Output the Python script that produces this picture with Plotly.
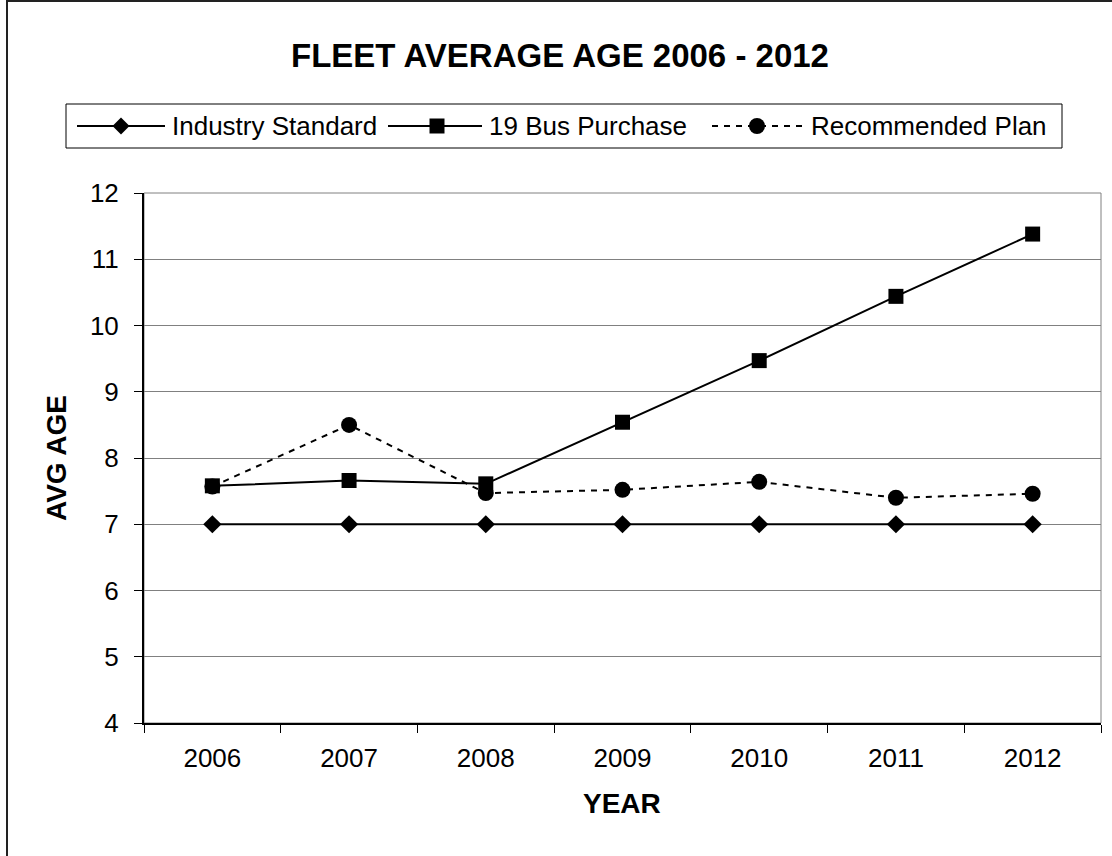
import plotly.graph_objects as go

# Fleet average age by year for three fleet replacement scenarios
years = ["2006", "2007", "2008", "2009", "2010", "2011", "2012"]
industry_standard = [7, 7, 7, 7, 7, 7, 7]
bus_purchase_19 = [7.58, 7.66, 7.61, 8.54, 9.47, 10.44, 11.38]
recommended_plan = [7.57, 8.5, 7.47, 7.52, 7.64, 7.40, 7.46]
y_ticks = [4, 5, 6, 7, 8, 9, 10, 11, 12]

series_names = ["Industry Standard", "19 Bus Purchase", "Recommended Plan"]

FONT = "Arial, Liberation Sans, sans-serif"
W, H = 1112, 856
L, R, T, B = 144, 11, 193, 133
PW, PH = W - L - R, H - T - B


def px_x(p):
    """Pixel column -> paper x."""
    return (p - L) / PW


def px_y(p):
    """Pixel row (from top) -> paper y."""
    return (H - B - p) / PH


DASH = "6px,6px"
fig = go.Figure()

fig.add_trace(go.Scatter(
    x=years, y=industry_standard, name=series_names[0], mode="lines+markers",
    line=dict(color="black", width=2),
    marker=dict(symbol="diamond", size=14, color="black"),
))
fig.add_trace(go.Scatter(
    x=years, y=bus_purchase_19, name=series_names[1], mode="lines+markers",
    line=dict(color="black", width=2),
    marker=dict(symbol="square", size=15, color="black"),
))
fig.add_trace(go.Scatter(
    x=years, y=recommended_plan, name=series_names[2], mode="lines+markers",
    line=dict(color="black", width=2, dash=DASH),
    marker=dict(symbol="circle", size=16, color="black"),
))

shapes = [
    # grey frame around plotting area (top and right edges)
    dict(type="rect", xref="paper", yref="paper", x0=0, x1=1, y0=0, y1=1,
         line=dict(color="#808080", width=1), layer="below"),
    # outer chart border
    dict(type="line", xref="paper", yref="paper", x0=px_x(7), x1=px_x(7),
         y0=px_y(0), y1=px_y(H + 5), line=dict(color="#222", width=2)),
    dict(type="line", xref="paper", yref="paper", x0=px_x(7), x1=px_x(W + 5),
         y0=px_y(1), y1=px_y(1), line=dict(color="#222", width=2)),
    # legend box
    dict(type="rect", xref="paper", yref="paper",
         x0=px_x(66), x1=px_x(1062), y0=px_y(104), y1=px_y(148),
         line=dict(color="black", width=1), fillcolor="white", layer="below"),
]

# legend entries: sample line span, marker centre, text start (pixels)
LEG_Y = 126
legend_items = [
    (series_names[0], 77, 165, 121, 170, "diamond", "solid"),
    (series_names[1], 388, 482, 437, 487, "square", "solid"),
    (series_names[2], 712, 802, 757, 809, "circle", DASH),
]

annotations = []
for name, lx0, lx1, mx, tx, sym, dash in legend_items:
    shapes.append(dict(type="line", xref="paper", yref="paper",
                       x0=px_x(lx0), x1=px_x(lx1), y0=px_y(LEG_Y), y1=px_y(LEG_Y),
                       line=dict(color="black", width=2, dash=dash)))
    if sym == "diamond":
        r = 8.5
        path = (f"M {px_x(mx - r)} {px_y(LEG_Y)} L {px_x(mx)} {px_y(LEG_Y - r)} "
                f"L {px_x(mx + r)} {px_y(LEG_Y)} L {px_x(mx)} {px_y(LEG_Y + r)} Z")
        shapes.append(dict(type="path", xref="paper", yref="paper", path=path,
                           fillcolor="black", line=dict(color="black", width=0)))
    elif sym == "square":
        r = 7.5
        shapes.append(dict(type="rect", xref="paper", yref="paper",
                           x0=px_x(mx - r), x1=px_x(mx + r),
                           y0=px_y(LEG_Y + r), y1=px_y(LEG_Y - r),
                           fillcolor="black", line=dict(color="black", width=0)))
    else:
        r = 8
        shapes.append(dict(type="circle", xref="paper", yref="paper",
                           x0=px_x(mx - r), x1=px_x(mx + r),
                           y0=px_y(LEG_Y + r), y1=px_y(LEG_Y - r),
                           fillcolor="black", line=dict(color="black", width=0)))
    annotations.append(dict(text=name, xref="paper", yref="paper",
                            x=px_x(tx), y=px_y(LEG_Y), showarrow=False,
                            xanchor="left", yanchor="middle",
                            font=dict(family=FONT, size=26, color="black")))

annotations += [
    dict(text="<b>FLEET AVERAGE AGE 2006 - 2012</b>", xref="paper", yref="paper",
         x=px_x(560), y=px_y(55), showarrow=False, xanchor="center", yanchor="middle",
         font=dict(family=FONT, size=33, color="black")),
    dict(text="<b>AVG AGE</b>", xref="paper", yref="paper",
         x=px_x(56), y=px_y(458), showarrow=False, textangle=-90,
         xanchor="center", yanchor="middle",
         font=dict(family=FONT, size=28, color="black")),
    dict(text="<b>YEAR</b>", xref="paper", yref="paper",
         x=px_x(622), y=px_y(803), showarrow=False,
         xanchor="center", yanchor="middle",
         font=dict(family=FONT, size=28, color="black")),
]

fig.update_layout(
    width=W, height=H,
    margin=dict(l=L, r=R, t=T, b=B, pad=0),
    paper_bgcolor="white", plot_bgcolor="white",
    font=dict(family=FONT, size=26, color="black"),
    showlegend=False,
    shapes=shapes,
    annotations=annotations,
    xaxis=dict(
        type="category", range=[-0.5, 6.5], tickson="boundaries",
        ticks="outside", ticklen=8, tickcolor="black", tickwidth=1,
        showline=True, linecolor="black", linewidth=2,
        showgrid=False, zeroline=False, ticklabelstandoff=11,
        tickfont=dict(family=FONT, size=26, color="black"),
    ),
    yaxis=dict(
        range=[4, 12], tickvals=y_ticks,
        ticks="outside", ticklen=8, tickcolor="black", tickwidth=1,
        showline=True, linecolor="black", linewidth=2,
        showgrid=True, gridcolor="#808080", gridwidth=1, zeroline=False,
        ticklabelstandoff=10,
        tickfont=dict(family=FONT, size=26, color="black"),
    ),
)

fig.write_html("out.html")
